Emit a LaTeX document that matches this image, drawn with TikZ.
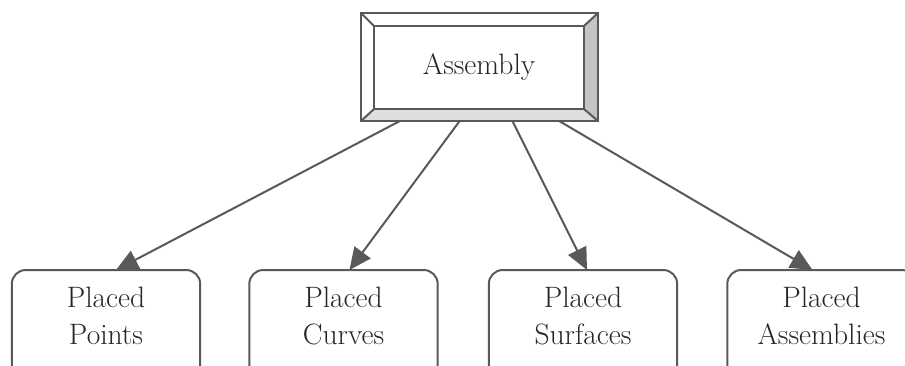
\documentclass[tikz,border=0pt]{standalone}
\usetikzlibrary{arrows.meta,calc}
\definecolor{edge}{HTML}{595959}
\definecolor{bevelR}{HTML}{C4C4C4}
\definecolor{bevelB}{HTML}{DEDEDE}
\begin{document}
\begin{tikzpicture}[x=1pt,y=-1pt,
  outline/.style={draw=edge,line width=2pt},
  label/.style={font=\fontsize{29.5}{37}\selectfont,text=black!85,align=center},
  leaf/.style={minimum width=188pt,minimum height=92pt,anchor=north,label,inner sep=0pt},
  link/.style={draw=edge,line width=2pt,-{Triangle[length=22pt,width=20pt]}}]
\useasboundingbox (0,0) rectangle (905,365);
\clip (0,0) rectangle (905,365);

% raised frame around the root
\node[minimum width=237pt,minimum height=108pt,inner sep=0pt] (outer) at (479.5,67) {};
\node[minimum width=210pt,minimum height=83pt,inner sep=0pt,label] (asm) at (479,67.5) {Assembly};
\fill[bevelR] (outer.north east) -- (outer.south east) -- (asm.south east) -- (asm.north east) -- cycle;
\fill[bevelB] (outer.south west) -- (outer.south east) -- (asm.south east) -- (asm.south west) -- cycle;
\draw[outline] (outer.south west) rectangle (outer.north east);
\draw[outline] (asm.south west) rectangle (asm.north east);
\foreach \c in {north west,north east,south west,south east}
  \draw[outline] (outer.\c) -- (asm.\c);

% children; their frames run on below the lower edge
\node[leaf] (pts) at (106,270) {Placed\\Points};
\node[leaf] (crv) at (343.5,270) {Placed\\Curves};
\node[leaf] (srf) at (583,270) {Placed\\Surfaces};
\node[leaf] (sub) at (821.5,270) {Placed\\Assemblies};
\foreach \n in {pts,crv,srf,sub}
  \draw[outline,rounded corners=14pt] ([yshift=-25pt]\n.south west) rectangle (\n.north east);

% links
\draw[link] ([xshift=-80pt]outer.south) -- ([xshift=10pt]pts.north);
\draw[link] ([xshift=-20pt]outer.south) -- ([xshift=6pt]crv.north);
\draw[link] ([xshift=33pt]outer.south) -- ([xshift=4pt]srf.north);
\draw[link] ([xshift=80pt]outer.south) -- ([xshift=-9pt]sub.north);
\end{tikzpicture}
\end{document}
